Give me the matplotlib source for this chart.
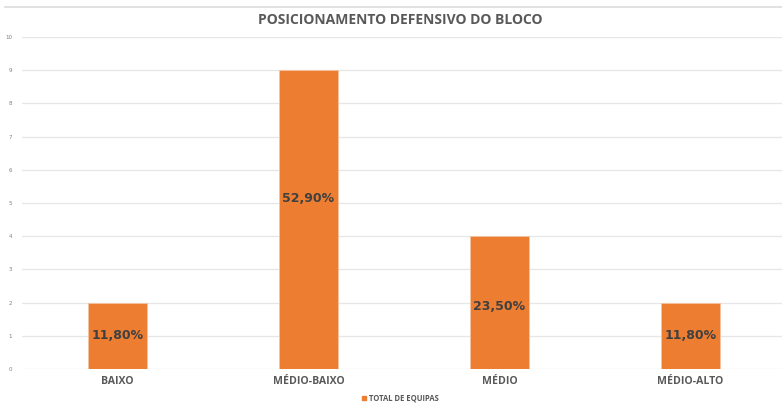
import matplotlib
matplotlib.use("Agg")
import matplotlib.pyplot as plt
from matplotlib.lines import Line2D
from matplotlib.patches import Rectangle

categories = ["BAIXO", "MÉDIO-BAIXO", "MÉDIO", "MÉDIO-ALTO"]
totals = [2, 9, 4, 2]
pct_labels = ["11,80%", "52,90%", "23,50%", "11,80%"]
label_frac = [0.5, 0.57, 0.47, 0.5]
y_ticks = list(range(0, 11))

ORANGE = "#ED7D31"
TEXT = "#595959"

W, H = 782, 403
fig = plt.figure(figsize=(W / 100, H / 100), dpi=100)
fig.patch.set_facecolor("white")

# chart frame line across the top
fig.add_artist(Line2D([5 / W, 1.0], [1 - 7 / H, 1 - 7 / H], color="#dcdcdc",
                      lw=1.2, transform=fig.transFigure))

ax = fig.add_axes([22 / W, 34 / H, 764 / W, 332 / H])
x = list(range(len(categories)))
ax.bar(x, totals, width=0.314, color=ORANGE, edgecolor="#f6c4a2", linewidth=0.6,
       zorder=3)
ax.set_xlim(-0.5, 3.5)
ax.set_ylim(0, 10)
ax.set_yticks(y_ticks)
ax.set_yticklabels([str(v) for v in y_ticks], fontsize=4, color="#7f7f7f")
ax.yaxis.grid(True, color="#e6e6e6", lw=0.9, zorder=0)
ax.tick_params(axis="y", length=0, pad=7)
ax.set_xticks(x)
ax.set_xticklabels(categories, fontsize=7.6, fontweight="bold", color=TEXT,
                   family="Open Sans")
ax.tick_params(axis="x", length=0, pad=5)
for s in ax.spines.values():
    s.set_visible(False)
ax.set_axisbelow(True)

for xi, v, lab, f in zip(x, totals, pct_labels, label_frac):
    ax.text(xi, v * f, lab, ha="center", va="center", fontsize=9,
            fontweight="bold", color="#404040", zorder=4)

fig.text(400 / W, 1 - 20 / H, "POSICIONAMENTO DEFENSIVO DO BLOCO", ha="center",
         va="center", fontsize=10, fontweight="bold", color=TEXT,
         family="Open Sans")

# legend
fig.add_artist(Rectangle((362 / W, 1 - 400 / H), 4 / W, 4 / H, color=ORANGE,
                         transform=fig.transFigure))
fig.text(369 / W, 1 - 398 / H, "TOTAL DE EQUIPAS", ha="left", va="center",
         fontsize=5.5, fontweight="bold", color=TEXT, family="Open Sans")

fig.savefig("out.png", dpi=100, facecolor="white")
